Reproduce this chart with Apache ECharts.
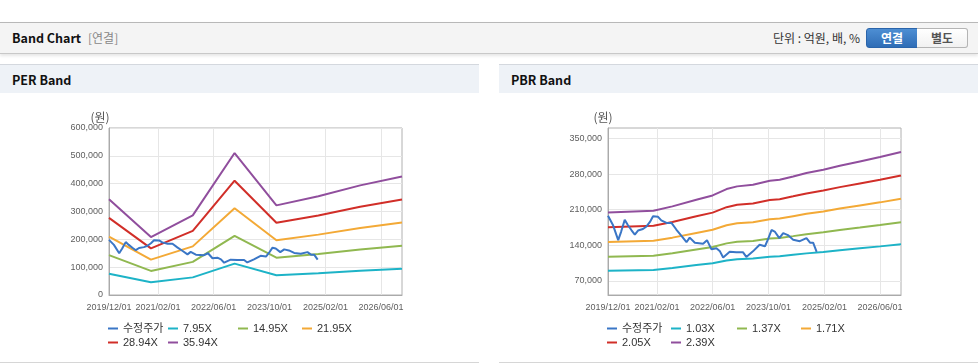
<!DOCTYPE html>
<html><head><meta charset="utf-8">
<script src="https://cdn.jsdelivr.net/npm/echarts@6/dist/echarts.min.js"></script>
<style>
html,body{margin:0;padding:0;}
body{width:978px;height:364px;overflow:hidden;background:#fff;position:relative;font-family:"Noto Sans CJK KR","Noto Sans",sans-serif;}
.hdr{position:absolute;left:0;top:22px;width:978px;height:30px;background:#f4f4f4;border-top:1px solid #b8b8b8;border-bottom:1px solid #c8c8c8;box-shadow:0 2px 3px rgba(0,0,0,0.10);}
.hdr .t{position:absolute;left:12px;top:0;line-height:30px;font-size:12.5px;font-weight:bold;color:#111;}
.hdr .s{position:absolute;left:88px;top:0;line-height:30px;font-size:12px;color:#888;}
.hdr .u{position:absolute;right:118px;top:0;line-height:30px;font-size:12px;color:#333;}
.btn{position:absolute;top:5px;height:18px;line-height:18px;font-size:12px;font-weight:bold;text-align:center;box-sizing:content-box;}
.b1{left:866px;width:50px;background:linear-gradient(#4d8ed3,#2f6db6);border:1px solid #2a64aa;border-radius:3px 0 0 3px;color:#fff;}
.b2{left:917px;width:50px;background:linear-gradient(#fff,#f1f1f1);border:1px solid #b4b4b4;border-left:none;border-radius:0 3px 3px 0;color:#555;}
.panel{position:absolute;top:64px;height:298px;border-bottom:1px solid #d6d6d6;background:#fff;}
.ptitle{position:absolute;left:0;top:0;right:0;height:28px;background:#eef2f7;border-top:1px solid #d4d8de;}
.ptitle span{position:absolute;left:12px;top:0;line-height:29px;font-size:12.5px;font-weight:bold;color:#111;}
.chart{position:absolute;left:0;top:29px;width:479px;height:269px;}
</style>
</head><body>
<div class="hdr"><span class="t">Band Chart</span><span class="s">[연결]</span><span class="u">단위 : 억원, 배, %</span>
<div class="btn b1">연결</div><div class="btn b2">별도</div></div>
<div class="panel" style="left:0;width:479px;"><div class="ptitle"><span>PER Band</span></div><div class="chart" id="per"></div></div>
<div class="panel" style="left:499px;width:479px;"><div class="ptitle"><span>PBR Band</span></div><div class="chart" id="pbr"></div></div>
<script>
// ---- data ----
const xTickDates = ['2019-12-01','2021-02-01','2022-06-01','2023-10-01','2025-02-01','2026-06-01'];
const xStart = '2019-12-01';
const xEnd = '2026-12-01';

const priceDates = ['2019-12-01','2020-01-13','2020-02-28','2020-03-25','2020-04-25','2020-05-22','2020-06-22','2020-07-22','2020-08-19','2020-10-01','2020-11-01','2020-12-01','2020-12-28','2021-02-10','2021-03-10','2021-04-25','2021-06-07','2021-07-19','2021-09-04','2021-10-16','2021-11-13','2021-12-28','2022-03-10','2022-04-13','2022-05-22','2022-07-04','2022-08-04','2022-09-01','2022-10-28','2022-12-25','2023-02-22','2023-03-22','2023-05-19','2023-07-16','2023-09-01','2023-09-28','2023-10-28','2023-11-25','2024-01-04','2024-02-07','2024-03-19','2024-05-04','2024-07-01','2024-08-28','2024-09-28','2024-10-25','2024-11-25'];
const priceValues = [198000,180000,150000,167000,190000,180000,170000,161000,169000,172000,177000,186000,197000,196000,189000,184000,184000,171000,158000,146000,155000,145000,143000,150000,132000,134000,128000,116000,127000,126000,126000,117000,128000,141000,138000,152000,170000,167000,154000,164000,160000,151000,148000,154000,145000,145000,127000];

const perNames = ['수정주가','7.95X','14.95X','21.95X','28.94X','35.94X'];
const perDates = ['2019-12-01','2020-12-01','2021-12-01','2022-12-01','2023-12-01','2024-12-01','2025-12-01','2026-12-01'];
const per795  = [76100,46000,63300,112800,71200,78500,87100,94200];
const per1495 = [143100,86500,119000,212100,134000,147700,163900,177200];
const per2195 = [210100,127000,174700,311500,196700,216900,240600,260100];
const per2894 = [277000,167500,230300,410700,259300,285900,317200,342900];
const per3594 = [344000,208000,286000,510000,322000,355100,393900,425900];
const perYTicks = [0,100000,200000,300000,400000,500000,600000];

const pbrNames = ['수정주가','1.03X','1.37X','1.71X','2.05X','2.39X'];
const pbrDates = ['2019-12-01','2021-01-01','2021-06-15','2022-01-10','2022-06-01','2022-10-01','2023-01-01','2023-05-19','2023-10-13','2024-01-07','2024-05-04','2024-08-28','2025-01-22','2025-06-15','2025-12-07','2026-06-01','2026-12-01'];
const pbr103 = [89900,91300,95200,100900,104700,110100,112500,113900,117300,118200,121100,124000,126900,130300,134100,137800,142200];
const pbr137 = [117300,119200,124200,131700,136500,143700,146700,148600,153100,154200,158000,161800,165600,170100,174900,179800,185500];
const pbr171 = [146500,148800,155000,164300,170400,179400,183200,185500,191100,192500,197200,201900,206600,212300,218400,224500,231500];
const pbr205 = [175600,178300,185800,197000,204300,215000,219600,222300,229100,230700,236400,242100,247700,254500,261800,269100,277600];
const pbr239 = [204700,207900,216600,229700,238200,250700,256000,259200,267100,269000,275600,282200,288800,296700,305200,313700,323600];
const pbrYTicks = [70000,140000,210000,280000,350000];
const pbrYMin = 42000, pbrYMax = 371000;

// ---- styles ----
const colors = ['#3a76c6','#1db3c7','#90b850','#f3a936','#d12e28','#904e9d'];
const tickFont = 'Liberation Sans';
const pad2 = n => (n < 10 ? '0' : '') + n;
const ts = d => { const p = d.split('-').map(Number); return new Date(p[0], p[1] - 1, p[2]).getTime(); };
const fmtDate = v => { const d = new Date(v); return d.getFullYear() + '/' + pad2(d.getMonth() + 1) + '/' + pad2(d.getDate()); };
const fmtNum = v => Number(v).toLocaleString('en-US');
const pair = (dates, vals) => dates.map((d, i) => [ts(d), vals[i]]);

function build(el, names, bandDates, bands, yCfg, legendPos) {
  const chart = echarts.init(document.getElementById(el), null, {renderer: 'canvas'});
  const tickTs = xTickDates.map(ts);
  const series = [{
    name: names[0], type: 'line', data: pair(priceDates, priceValues), showSymbol: false, symbol: 'none',
    lineStyle: {width: 2, color: colors[0]}, itemStyle: {color: colors[0]}, z: 5, silent: true
  }];
  bands.forEach((b, i) => series.push({
    name: names[i + 1], type: 'line', data: pair(bandDates, b), showSymbol: false, symbol: 'none',
    lineStyle: {width: 2, color: colors[i + 1]}, itemStyle: {color: colors[i + 1]}, z: 2, silent: true
  }));
  const legends = names.map((n, i) => ({
    data: [n], left: legendPos[i][0], top: legendPos[i][1], padding: 0, icon: 'rect', itemWidth: 10, itemHeight: 2,
    selectedMode: false, textStyle: {fontSize: 11, color: '#333', fontFamily: '"Liberation Sans", "Noto Sans CJK KR", sans-serif'}
  }));
  const yAxis = Object.assign({
    type: 'value', name: '(원)', nameLocation: 'end', nameGap: 5,
    nameTextStyle: {fontSize: 12, color: '#555', align: 'center', padding: yCfg.namePad, fontFamily: '"Noto Sans CJK KR", sans-serif'},
    axisLine: {show: true, lineStyle: {color: '#aaa'}},
    axisTick: {show: false},
    axisLabel: {fontSize: 9, color: '#5e5e5e', margin: 6, fontFamily: tickFont, formatter: fmtNum},
    splitLine: {show: true, lineStyle: {color: '#e6e6e6'}}
  }, yCfg.axis);
  chart.setOption({
    animation: false,
    grid: {left: 109, top: 35, width: 293, height: 167, show: true, borderColor: '#b0b0b0', borderWidth: 1, backgroundColor: '#fff'},
    legend: legends,
    xAxis: {
      type: 'value', min: ts(xStart), max: ts(xEnd),
      axisLine: {lineStyle: {color: '#aaa'}},
      axisTick: {show: false, customValues: tickTs},
      axisLabel: {customValues: tickTs, formatter: fmtDate, fontSize: 9, color: '#5e5e5e', margin: 8, fontFamily: tickFont, hideOverlap: false},
      splitLine: {show: true, lineStyle: {color: '#e6e6e6'}}
    },
    yAxis: yAxis,
    series: series
  });
}

build('per', perNames, perDates, [per795, per1495, per2195, per2894, per3594],
  {axis: {min: perYTicks[0], max: perYTicks[perYTicks.length - 1], interval: 100000}, namePad: [0, 18, 0, 0]},
  [[108, 230], [168, 230], [238, 230], [302, 230], [108, 244], [168, 244]]);

build('pbr', pbrNames, pbrDates, [pbr103, pbr137, pbr171, pbr205, pbr239],
  {axis: {min: pbrYMin, max: pbrYMax,
          axisTick: {show: false, customValues: pbrYTicks},
          axisLabel: {customValues: pbrYTicks, fontSize: 9, color: '#5e5e5e', margin: 6, fontFamily: tickFont, formatter: fmtNum}},
   namePad: [0, 10, 0, 0]},
  [[108, 230], [172, 230], [238, 230], [302, 230], [108, 244], [172, 244]]);
</script>
</body></html>
